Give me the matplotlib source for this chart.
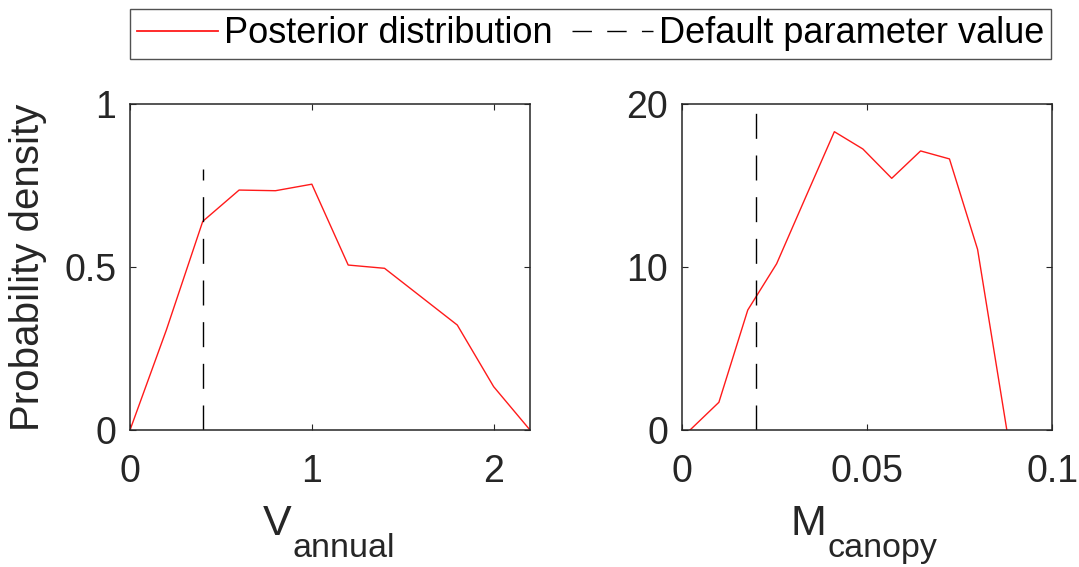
import matplotlib.pyplot as plt
from matplotlib.lines import Line2D

plt.rcParams['font.family'] = ['Liberation Sans', 'DejaVu Sans']

# V_annual posterior
v_x = [0, 0.2, 0.4, 0.6, 0.8, 1.0, 1.2, 1.4, 1.6, 1.8, 2.0, 2.2]
v_y = [0, 0.307, 0.64, 0.736, 0.734, 0.754, 0.506, 0.496, 0.409, 0.322, 0.133, 0]
v_default = 0.4
v_default_top = 0.8

# M_canopy posterior
m_x = [0.0021, 0.0099, 0.0177, 0.0255, 0.0333, 0.0411, 0.0488, 0.0566, 0.0644, 0.0722, 0.0798, 0.0877]
m_y = [0, 1.7, 7.36, 10.2, 14.26, 18.3, 17.24, 15.44, 17.12, 16.63, 11.08, 0]
m_default = 0.02
m_default_top = 20

fig = plt.figure(figsize=(10.79, 5.67), dpi=100)
ax1 = fig.add_axes([0.1205, 0.2416, 0.3707, 0.575])
ax2 = fig.add_axes([0.6323, 0.2416, 0.343, 0.575])

dash = (18, 12)
red = '#ff1a1a'
dark = '#262626'


def sub_label(ax, main, sub, x_main, x_sub):
    # MATLAB style label: big letter, subscript dropped well below
    ax.annotate(main, xy=(0.5, 0), xycoords='axes fraction',
                xytext=(x_main, -105), textcoords='offset pixels',
                ha='left', va='baseline', fontsize=31, color=dark)
    ax.annotate(sub, xy=(0.5, 0), xycoords='axes fraction',
                xytext=(x_sub, -127), textcoords='offset pixels',
                ha='left', va='baseline', fontsize=24.5, color=dark)


ax1.plot(v_x, v_y, color=red, lw=1.0)
ax1.plot([v_default, v_default], [0, v_default_top], color='black', lw=1.0, dashes=dash)
ax1.set_xlim(0, 2.2)
ax1.set_ylim(0, 1)
ax1.set_xticks([0, 1, 2])
ax1.set_xticklabels(['0', '1', '2'])
ax1.set_yticks([0, 0.5, 1])
ax1.set_yticklabels(['0', '0.5', '1'])
ax1.set_ylabel('Probability density', fontsize=29, labelpad=12, color=dark)
sub_label(ax1, 'V', 'annual', -67, -38)

ax2.plot(m_x, m_y, color=red, lw=1.0)
ax2.plot([m_default, m_default], [0, m_default_top], color='black', lw=1.0, dashes=dash)
ax2.set_xlim(0, 0.1)
ax2.set_ylim(0, 20)
ax2.set_xticks([0, 0.05, 0.1])
ax2.set_xticklabels(['0', '0.05', '0.1'])
ax2.set_yticks([0, 10, 20])
sub_label(ax2, 'M', 'canopy', -77, -40)

for ax in (ax1, ax2):
    ax.tick_params(direction='in', length=4, width=0.8, labelsize=27,
                   top=True, right=True, colors=dark)
    ax.tick_params(axis='x', pad=17)
    ax.tick_params(axis='y', pad=10)
    for s in ax.spines.values():
        s.set_linewidth(1.1)
        s.set_color(dark)

handles = [Line2D([], [], color=red, lw=1.3),
           Line2D([], [], color='black', lw=1.0, dashes=(14, 11))]
fig.legend(handles, ['Posterior distribution', 'Default parameter value'],
           loc='upper center', bbox_to_anchor=(0.5473, 0.984), ncol=2,
           fontsize=26, frameon=True, fancybox=False, edgecolor=dark,
           handlelength=2.25, handletextpad=0.15, columnspacing=0.55,
           borderpad=0.2, borderaxespad=0)

fig.savefig('out.png', dpi=100)
